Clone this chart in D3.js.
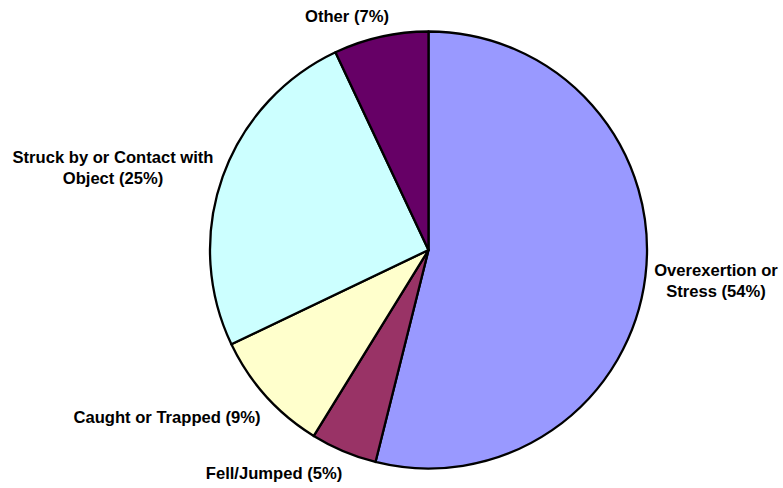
<!DOCTYPE html>
<html>
<head>
<meta charset="utf-8">
<script src="https://cdn.jsdelivr.net/npm/d3@7/dist/d3.min.js"></script>
<style>
  html, body { margin: 0; padding: 0; background: #fff; }
  svg { display: block; }
  .lbl { font-family: "Liberation Sans", Arial, sans-serif; font-weight: bold; font-size: 16.6px; fill: #000; }
</style>
</head>
<body>
<svg width="783" height="488"></svg>
<script>
// Slices, clockwise from 12 o'clock
var categories = ["Overexertion or Stress", "Fell/Jumped", "Caught or Trapped", "Struck by or Contact with Object", "Other"];
var shares = [53.9, 4.9, 9.1, 25.1, 7.0];
var percentLabels = ["54%", "5%", "9%", "25%", "7%"];
// label text split into lines the way the chart wraps them
var labelLines = [
  ["Overexertion or", "Stress (54%)"],
  ["Fell/Jumped (5%)"],
  ["Caught or Trapped (9%)"],
  ["Struck by or Contact with", "Object (25%)"],
  ["Other (7%)"]
];
var colors = ["#9999ff", "#993366", "#ffffcc", "#ccffff", "#660066"];

// where each label sits (center x, first baseline y)
var labelAt = [[716, 276], [274, 479], [167, 423], [113, 163], [347, 22]];

var svg = d3.select("svg");
var cx = 428.5, cy = 250, radius = 218.5;

var pie = d3.pie()
  .sort(null)
  .value(function(d) { return d; })
  .startAngle(0)
  .endAngle(2 * Math.PI);

var arc = d3.arc().innerRadius(0).outerRadius(radius);

var g = svg.append("g").attr("transform", "translate(" + cx + "," + cy + ")");

g.selectAll("path.slice")
  .data(pie(shares))
  .enter().append("path")
  .attr("class", "slice")
  .attr("d", arc)
  .attr("fill", function(d, i) { return colors[i]; })
  .attr("stroke", "#000")
  .attr("stroke-width", 2.3)
  .attr("stroke-linejoin", "round");

// Labels
var lbl = svg.selectAll("text.lbl")
  .data(labelLines)
  .enter().append("text")
  .attr("class", "lbl")
  .attr("text-anchor", "middle")
  .attr("x", function(d, i) { return labelAt[i][0]; })
  .attr("y", function(d, i) { return labelAt[i][1]; });

lbl.each(function(lines, i) {
  var t = d3.select(this);
  lines.forEach(function(line, j) {
    t.append("tspan")
      .attr("x", labelAt[i][0])
      .attr("dy", j == 0 ? 0 : 20.5)
      .text(line);
  });
});
</script>
</body>
</html>
